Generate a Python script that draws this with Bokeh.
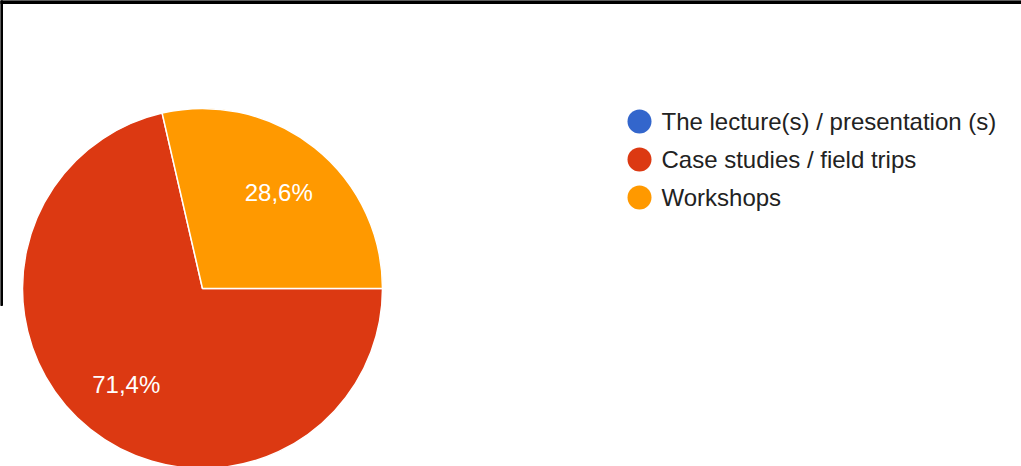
import math
from bokeh.plotting import figure
from bokeh.models import Range1d, ColumnDataSource
from bokeh.core.properties import value
from bokeh.embed import file_html
from bokeh.resources import INLINE

# ---- data ----
categories = ["The lecture(s) / presentation (s)", "Case studies / field trips", "Workshops"]
shares = [0.0, 71.4, 28.6]
colors = ["#3366cc", "#dc3912", "#ff9900"]

# ---- layout ----
W, H = 1021, 466
FONT = "Liberation Sans"

p = figure(width=W, height=H, x_range=Range1d(0, W), y_range=Range1d(0, H),
           output_backend="svg", toolbar_location=None, min_border=0,
           outline_line_color=None, background_fill_color="white",
           border_fill_color="white")
p.axis.visible = False
p.grid.visible = False
p.margin = (0, 0, 0, 0)

# screenshot frame edges
p.quad(left=[0], right=[W], bottom=[H - 3], top=[H], color="black")
p.quad(left=[0], right=[2], bottom=[H - 305], top=[H], color="black")

cx, cy, R = 202, H - 288, 180
total = sum(shares)
ws, we, wc, lx, ly, lt = [], [], [], [], [], []
cum = 0.0
for s, c in zip(shares, colors):
    a0 = -cum / total * 2 * math.pi
    cum += s
    a1 = -cum / total * 2 * math.pi
    if s <= 0:
        continue
    ws.append(a1)
    we.append(a0)
    wc.append(c)
    mid = (a0 + a1) / 2
    lx.append(cx + 0.68 * R * math.cos(mid))
    ly.append(cy + 0.68 * R * math.sin(mid))
    lt.append(f"{s:.1f}".replace(".", ",") + "%")

src = ColumnDataSource(dict(start=ws, end=we, color=wc))
p.wedge(x=cx, y=cy, radius=R, start_angle="start", end_angle="end",
        fill_color="color", line_color="white", line_width=1.5, source=src)

p.text(x=lx, y=ly, text=lt, text_color="white", text_font=value(FONT),
       text_font_size="24px", text_align="center", text_baseline="middle")

# legend
leg_y = [H - (121 + 38 * i) for i in range(len(categories))]
p.scatter(x=[639] * len(categories), y=leg_y, size=24, marker="circle",
          fill_color=colors, line_color=None)
p.text(x=[661] * len(categories), y=leg_y, text=categories, text_color="#222222",
       text_font=value(FONT), text_font_size="24px", text_align="left",
       text_baseline="middle")

open("out.html", "w").write(file_html(p, INLINE))
